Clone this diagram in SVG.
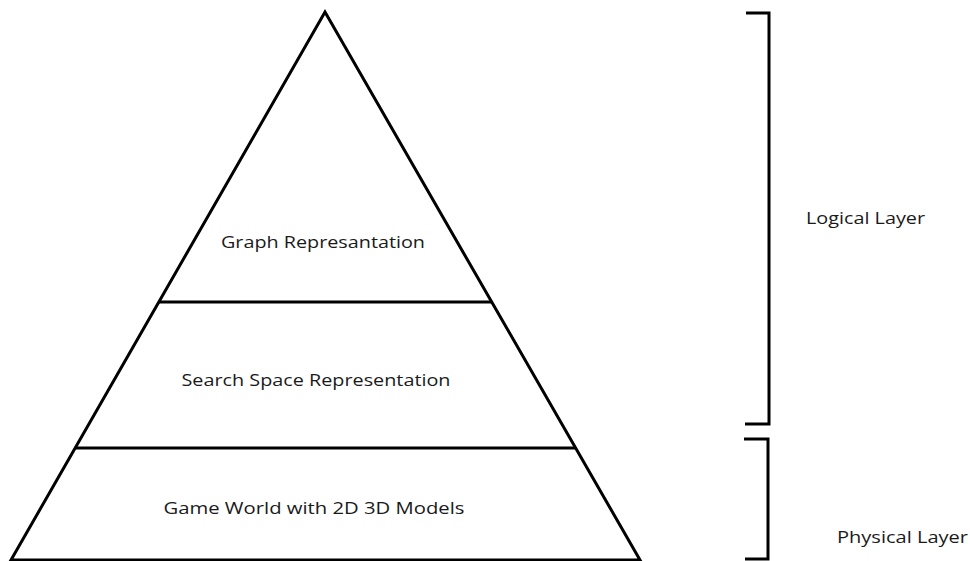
<svg xmlns="http://www.w3.org/2000/svg" width="970" height="561" viewBox="0 0 970 561">
<style>
.ln{fill:none;stroke:#000;stroke-width:3;stroke-linejoin:miter}
.t{font-family:"Open Sans","Liberation Sans",sans-serif;font-size:17px;fill:#1a1a1a}
.m{text-anchor:middle}
</style>
<rect width="970" height="561" fill="#fff"/>
<g id="pyramid">
<polygon class="ln" points="325,12 640,560 11,560"/>
</g>
<g id="connectors">
<line class="ln" x1="159" y1="302" x2="491" y2="302"/>
<line class="ln" x1="75" y1="448" x2="576" y2="448"/>
</g>
<g id="graph-representation">
<text class="t m" x="323" y="248" textLength="204" lengthAdjust="spacingAndGlyphs">Graph Represantation</text>
</g>
<g id="search-space">
<text class="t m" x="316" y="386" textLength="269" lengthAdjust="spacingAndGlyphs">Search Space Representation</text>
</g>
<g id="game-world">
<text class="t m" x="314" y="514" textLength="301" lengthAdjust="spacingAndGlyphs">Game World with 2D 3D Models</text>
</g>
<g id="logical-layer">
<polyline class="ln" points="746,13 769,13 769,424 745,424"/>
<text class="t" x="806" y="224" textLength="119" lengthAdjust="spacingAndGlyphs">Logical Layer</text>
</g>
<g id="physical-layer">
<polyline class="ln" points="744,439 768,439 768,559 745,559"/>
<text class="t" x="837" y="543" textLength="131" lengthAdjust="spacingAndGlyphs">Physical Layer</text>
</g>
</svg>
